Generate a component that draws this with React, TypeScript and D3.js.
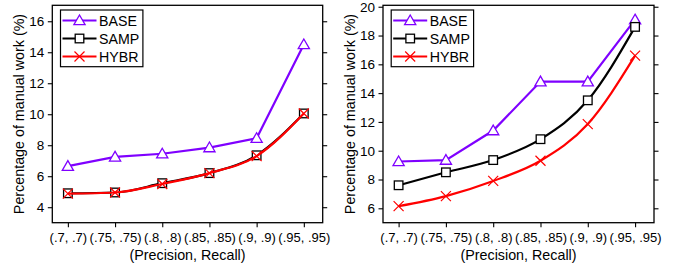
import React, {useEffect, useRef} from "react";
import * as d3 from "d3";

const categories = ["(.7, .7)", "(.75, .75)", "(.8, .8)", "(.85, .85)", "(.9, .9)", "(.95, .95)"];
const seriesNames = ["BASE", "SAMP", "HYBR"];

// left panel
const leftBase = [6.65, 7.25, 7.45, 7.85, 8.45, 14.5];
const leftSamp = [4.9, 4.95, 5.55, 6.2, 7.35, 10.05];
const leftHybr = [4.88, 4.95, 5.5, 6.2, 7.3, 10.05];
const leftTicks = [4, 6, 8, 10, 12, 14, 16];

// right panel
const rightBase = [9.25, 9.35, 11.4, 14.8, 14.8, 19.1];
const rightSamp = [7.6, 8.5, 9.35, 10.8, 13.5, 18.6];
const rightHybr = [6.15, 6.85, 7.9, 9.3, 11.85, 16.6];
const rightTicks = [6, 8, 10, 12, 14, 16, 18, 20];

const FONT = "'Liberation Sans', Arial, Helvetica, sans-serif";
const colours = ["#7f00ff", "#000000", "#ff0000"];

const panels = [
    {x0: 52.3, x1: 322.7, domain: [3, 17.03], ticks: leftTicks, series: [leftBase, leftSamp, leftHybr]},
    {x0: 383, x1: 654, domain: [5, 20.1], ticks: rightTicks, series: [rightBase, rightSamp, rightHybr]},
];

const TOP = 5.3;
const BOTTOM = 222.7;

const drawMarker = (g, kind, x, y) => {
    if (kind === 0) {
        g.append("path")
            .attr("d", `M${x},${y - 5.5}L${x + 5.6},${y + 4.2}L${x - 5.6},${y + 4.2}Z`)
            .attr("fill", "#fff").attr("stroke", colours[0]).attr("stroke-width", 1.3);
    } else if (kind === 1) {
        g.append("rect")
            .attr("x", x - 4.3).attr("y", y - 4.3).attr("width", 8.6).attr("height", 8.6)
            .attr("fill", "#fff").attr("stroke", "#000").attr("stroke-width", 1.3);
    } else {
        g.append("path")
            .attr("d", `M${x - 5},${y - 5}L${x + 5},${y + 5}M${x - 5},${y + 5}L${x + 5},${y - 5}`)
            .attr("fill", "none").attr("stroke", colours[2]).attr("stroke-width", 1.2);
    }
};

const App = () => {
    const ref = useRef(null);

    useEffect(() => {
        const svg = d3.select(ref.current);
        svg.selectAll("*").remove();

        panels.forEach(p => {
            const x = d3.scaleLinear().domain([-0.33, 5.4]).range([p.x0, p.x1]);
            const y = d3.scaleLinear().domain(p.domain).range([BOTTOM, TOP]);
            const g = svg.append("g");

            const minor = d3.range(p.domain[0], p.domain[1] + 0.01, 2);

            // left axis
            const left = g.append("g").attr("transform", `translate(${p.x0},0)`);
            left.call(d3.axisLeft(y).tickValues(minor).tickSize(2.5).tickFormat(() => ""));
            left.call(d3.axisLeft(y).tickValues(p.ticks).tickSize(4.5).tickPadding(3.5).tickFormat(d3.format("d")));
            // right axis
            const right = g.append("g").attr("transform", `translate(${p.x1},0)`);
            right.call(d3.axisRight(y).tickValues(minor).tickSize(2.5).tickFormat(() => ""));
            right.call(d3.axisRight(y).tickValues(p.ticks).tickSize(4.5).tickFormat(() => ""));
            // bottom axis
            const bottom = g.append("g").attr("transform", `translate(0,${BOTTOM})`);
            bottom.call(d3.axisBottom(x).tickValues(d3.range(categories.length)).tickSize(4.5).tickPadding(6)
                .tickFormat(i => categories[i]));
            g.selectAll(".domain").remove();
            g.selectAll(".tick line").attr("stroke", "#000").attr("stroke-width", 1.1);
            left.selectAll("text").attr("font-size", 13.5).attr("font-family", FONT).attr("fill", "#000");
            bottom.selectAll("text").attr("font-size", 13).attr("font-family", FONT).attr("fill", "#000");

            g.append("rect")
                .attr("x", p.x0).attr("y", TOP).attr("width", p.x1 - p.x0).attr("height", BOTTOM - TOP)
                .attr("fill", "none").attr("stroke", "#000").attr("stroke-width", 1.3);

            // titles
            g.append("text")
                .attr("transform", `translate(${p.x0 - 28},${(TOP + BOTTOM) / 2}) rotate(-90)`)
                .attr("text-anchor", "middle").attr("font-size", 14.3).attr("font-family", FONT)
                .text("Percentage of manual work (%)");
            g.append("text")
                .attr("x", (p.x0 + p.x1) / 2).attr("y", 260)
                .attr("text-anchor", "middle").attr("font-size", 14.3).attr("font-family", FONT)
                .text("(Precision, Recall)");

            // series
            p.series.forEach((vals, k) => {
                const line = d3.line()
                    .x((d, i) => x(i))
                    .y(d => y(d))
                    .curve(k === 0 ? d3.curveLinear : d3.curveMonotoneX);
                g.append("path")
                    .attr("d", line(vals))
                    .attr("fill", "none").attr("stroke", colours[k]).attr("stroke-width", 2.2);
                vals.forEach((v, i) => drawMarker(g, k, x(i), y(v)));
            });

            // legend
            const lx = p.x0 + 8.2;
            const leg = g.append("g");
            leg.append("rect")
                .attr("x", lx).attr("y", 10).attr("width", 82.4).attr("height", 56.7)
                .attr("fill", "#fff").attr("stroke", "#000").attr("stroke-width", 1.2);
            seriesNames.forEach((name, k) => {
                const ry = 20.5 + k * 18;
                leg.append("line")
                    .attr("x1", lx + 2).attr("x2", lx + 36).attr("y1", ry).attr("y2", ry)
                    .attr("stroke", colours[k]).attr("stroke-width", 2.2);
                drawMarker(leg, k, lx + 19, ry);
                leg.append("text")
                    .attr("x", lx + 38.5).attr("y", ry + 5.2)
                    .attr("font-size", 14.2).attr("font-family", FONT)
                    .text(name);
            });
        });
    }, []);

    return (
        <svg
            width={686}
            height={272}
            ref={ref}
            style={{position: "absolute", left: 0, top: 0, background: "#fff"}}
        />
    );
};

export default App;
